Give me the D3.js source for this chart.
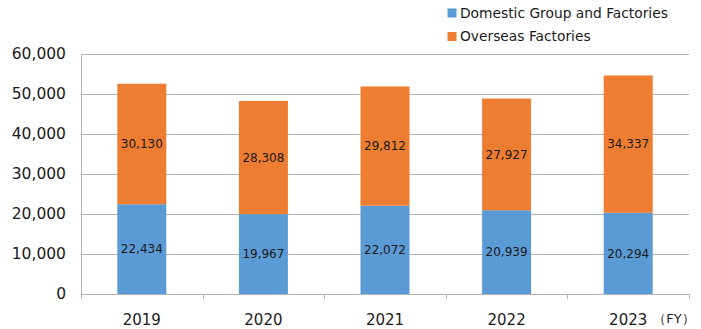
<!DOCTYPE html>
<html><head><meta charset="utf-8">
<script src="https://cdn.jsdelivr.net/npm/d3@7"></script>
<style>body{margin:0;background:#fff}svg{display:block}text{font-family:"DejaVu Sans",Verdana,sans-serif}</style>
</head><body>
<svg id="c" width="701" height="329"></svg>
<script>
const years = ["2019","2020","2021","2022","2023"];
const domestic = [22434,19967,22072,20939,20294];
const overseas = [30130,28308,29812,27927,34337];
const seriesNames = ["Domestic Group and Factories","Overseas Factories"];
const colors = ["#5b9bd5","#ed7d31"];
const yTicks = [0,10000,20000,30000,40000,50000,60000];

(function(){
const svg = d3.select("#c");
const pL=81, pR=689, pT=54, pB=294;
const gridCol = "#b3b3b3";
const xb = d3.scaleBand().domain(years).range([pL,pR]);
const y = d3.scaleLinear().domain([0,60000]).range([pB,pT]);
const fmt = d3.format(",");

// gridlines
svg.append("g").selectAll("line").data(yTicks.filter(d=>d>0)).join("line")
  .attr("x1",pL).attr("x2",pR).attr("y1",d=>Math.round(y(d))+0.5).attr("y2",d=>Math.round(y(d))+0.5)
  .attr("stroke",gridCol).attr("stroke-width",1);
// y axis line
svg.append("line").attr("x1",pL+0.5).attr("x2",pL+0.5).attr("y1",y(60000)+0.5).attr("y2",pB+0.5).attr("stroke",gridCol);

const rows = years.map((yr,i)=>({year:yr, d:domestic[i], o:overseas[i]}));
const stack = d3.stack().keys(["d","o"])(rows);
stack.forEach((s,si)=>{
  svg.append("g").selectAll("rect").data(s).join("rect")
    .attr("x",d=>xb(d.data.year)+xb.bandwidth()/2-24.5)
    .attr("width",49)
    .attr("y",d=>y(d[1])).attr("height",d=>y(d[0])-y(d[1]))
    .attr("fill",colors[si]);
  svg.append("g").selectAll("text").data(s).join("text")
    .attr("x",d=>xb(d.data.year)+xb.bandwidth()/2)
    .attr("y",d=>y((d[0]+d[1])/2)).attr("dy","0.35em")
    .attr("text-anchor","middle").attr("font-size",12).attr("fill","#1a1a1a")
    .text(d=>fmt(d[1]-d[0]));
});

// x axis
const xa = svg.append("g");
xa.append("line").attr("x1",pL).attr("x2",pR).attr("y1",pB+0.5).attr("y2",pB+0.5).attr("stroke",gridCol);
const bounds = years.map(d=>xb(d)).concat([pR]);
xa.selectAll("line.t").data(bounds).join("line").attr("class","t")
  .attr("x1",d=>Math.round(d)+0.5).attr("x2",d=>Math.round(d)+0.5).attr("y1",pB).attr("y2",pB+5).attr("stroke",gridCol);
xa.selectAll("text.yl").data(years).join("text").attr("class","yl")
  .attr("x",d=>xb(d)+xb.bandwidth()/2).attr("y",319.5).attr("dy","0.35em")
  .attr("text-anchor","middle").attr("font-size",15).attr("fill","#1a1a1a").text(d=>d);
svg.append("text").attr("x",674).attr("y",318).attr("dy","0.35em").attr("text-anchor","middle")
  .attr("font-size",13).attr("fill","#1a1a1a").text("（FY）");

// y axis labels
svg.append("g").selectAll("text").data(yTicks).join("text")
  .attr("x",66).attr("y",d=>y(d)).attr("dy","0.35em").attr("text-anchor","end")
  .attr("font-size",15.5).attr("fill","#1a1a1a").text(d=>fmt(d));

// legend
const lg = svg.append("g");
seriesNames.forEach((n,i)=>{
  const ly = 13 + i*23.5;
  lg.append("rect").attr("x",447.5).attr("y",ly-4.5).attr("width",9).attr("height",9).attr("fill",colors[i]);
  lg.append("text").attr("x",460).attr("y",ly).attr("dy","0.35em").attr("font-size",13.8).attr("fill","#1a1a1a").text(n);
});
})();
</script>
</body></html>
